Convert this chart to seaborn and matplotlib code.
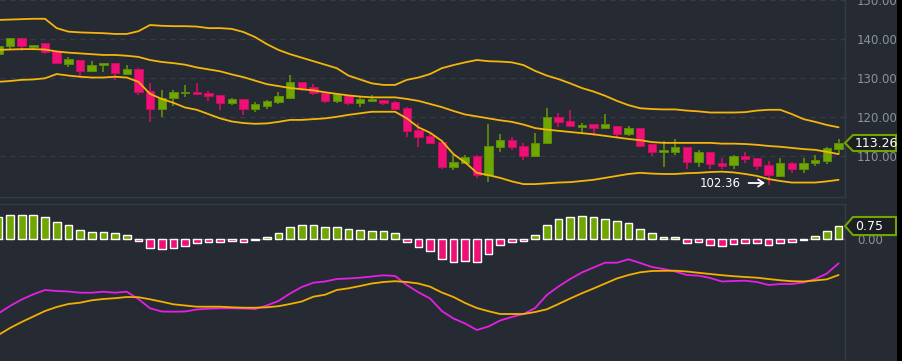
import numpy as np
import pandas as pd
import matplotlib
matplotlib.use("Agg")
import matplotlib.pyplot as plt
from matplotlib.patches import Polygon, Rectangle
from matplotlib.ticker import FormatStrFormatter
import seaborn as sns

# ---------------- data ----------------
opens = [136.1, 138.3, 140.2, 138.0, 138.9, 136.9, 133.5, 134.6, 131.9, 133.2,
         133.8, 130.9, 132.2, 126.6, 121.9, 124.9, 126.1, 126.4, 126.1, 125.7,
         123.5, 124.5, 121.9, 122.9, 123.8, 124.8, 128.9, 127.6, 126.2, 124.1,
         125.6, 123.6, 124.1, 124.3, 123.7, 122.2, 116.6, 115.1, 113.4, 107.2,
         108.2, 109.8, 105.1, 112.3, 114.0, 112.5, 109.8, 113.2, 119.9, 118.9,
         117.5, 118.2, 117.0, 117.6, 115.5, 117.0, 112.9, 111.0, 111.0, 112.2,
         108.3, 110.9, 108.2, 107.6, 109.8, 109.3, 107.6, 104.9, 108.1, 106.5,
         108.0, 108.7, 111.7]
highs = [138.5, 140.3, 140.3, 138.5, 138.9, 137.0, 135.5, 134.7, 134.4, 133.9,
         133.9, 133.2, 132.5, 128.6, 126.9, 126.9, 128.2, 128.6, 126.7, 125.7,
         124.9, 124.6, 123.9, 124.2, 126.5, 130.7, 129.0, 128.4, 126.2, 125.9,
         125.6, 125.0, 125.6, 124.3, 124.1, 122.6, 118.3, 116.2, 113.4, 110.2,
         110.2, 110.2, 118.1, 115.5, 114.9, 113.2, 115.8, 122.2, 120.9, 121.7,
         118.4, 118.2, 120.7, 117.6, 117.6, 117.0, 112.9, 113.8, 114.2, 112.2,
         111.5, 110.9, 109.3, 110.2, 111.0, 109.3, 108.7, 109.3, 108.3, 109.3,
         110.2, 112.3, 114.3]
lows = [135.5, 137.4, 137.0, 137.2, 136.1, 133.8, 132.9, 130.2, 131.8, 131.6,
        129.5, 130.7, 125.6, 118.7, 119.9, 122.8, 125.2, 125.8, 124.1, 121.7,
        123.0, 120.4, 121.3, 121.9, 123.2, 124.7, 126.6, 125.6, 123.6, 123.6,
        123.0, 122.6, 123.9, 123.0, 121.9, 114.7, 112.3, 113.2, 106.6, 106.4,
        108.0, 104.2, 103.2, 111.0, 111.5, 108.9, 109.8, 112.9, 117.5, 117.5,
        115.8, 115.1, 116.9, 114.9, 115.0, 112.5, 110.0, 107.2, 110.2, 106.6,
        107.2, 106.6, 106.6, 106.6, 108.0, 106.3, 102.36, 104.5, 105.6, 105.6,
        107.4, 107.8, 110.4]
closes = [138.2, 140.2, 138.3, 138.4, 136.7, 133.9, 134.8, 131.9, 133.3, 133.8,
          131.3, 132.2, 126.5, 121.9, 124.9, 126.3, 126.4, 125.8, 125.4, 123.5,
          124.5, 121.9, 123.2, 124.1, 125.4, 128.9, 127.3, 126.2, 124.1, 125.8,
          123.5, 124.5, 124.5, 123.5, 121.9, 116.4, 114.9, 113.2, 107.2, 108.5,
          109.6, 105.1, 112.6, 114.0, 112.3, 109.8, 113.2, 120.0, 118.7, 117.7,
          118.0, 117.2, 118.1, 115.6, 117.0, 112.6, 111.0, 111.5, 112.3, 108.5,
          111.0, 107.8, 107.4, 109.8, 109.1, 107.4, 105.0, 108.1, 106.5, 108.1,
          108.9, 111.9, 113.26]

bb_upper = [144.9, 145.0, 145.1, 145.2, 145.2, 142.8, 141.9, 141.7, 141.6, 141.5,
            141.3, 141.3, 142.0, 143.6, 143.4, 143.3, 143.3, 143.2, 142.8, 142.8,
            142.6, 141.8, 140.5, 138.7, 137.2, 136.1, 135.2, 134.3, 133.4, 132.5,
            130.6, 129.6, 128.6, 128.2, 128.2, 129.5, 130.1, 131.0, 132.5, 133.3,
            134.0, 134.6, 134.3, 134.2, 134.0, 133.3, 131.8, 130.6, 129.7, 128.6,
            127.4, 126.5, 125.4, 124.1, 123.0, 122.2, 122.0, 121.9, 121.9, 121.6,
            121.4, 121.1, 121.1, 121.1, 121.2, 121.6, 121.8, 121.8, 120.7, 119.4,
            118.7, 117.9, 117.3]
bb_mid = [137.2, 137.3, 137.4, 137.4, 137.3, 136.8, 136.5, 136.3, 136.1, 135.9,
          135.9, 135.7, 135.4, 134.6, 134.1, 133.8, 133.4, 132.7, 132.2, 131.7,
          130.9, 130.2, 129.3, 128.4, 127.9, 127.4, 127.1, 126.8, 126.3, 125.9,
          125.5, 125.2, 125.0, 125.0, 125.0, 124.6, 124.1, 123.3, 122.5, 121.5,
          120.6, 120.1, 119.6, 119.1, 118.7, 118.0, 117.1, 116.7, 116.4, 116.1,
          115.8, 115.5, 115.1, 114.7, 114.3, 114.0, 113.5, 113.3, 113.3, 113.3,
          113.3, 113.3, 113.1, 113.1, 113.0, 112.8, 112.5, 112.3, 112.0, 111.7,
          111.5, 111.0, 110.4]
bb_lower = [129.0, 129.2, 129.5, 129.6, 129.9, 131.0, 130.6, 130.3, 130.1, 130.1,
            130.3, 130.1, 129.0, 125.9, 124.6, 123.6, 122.4, 121.8, 120.7, 119.6,
            118.8, 118.4, 118.2, 118.3, 118.7, 119.2, 119.2, 119.4, 119.6, 120.0,
            120.5, 120.9, 121.3, 121.3, 121.3, 119.6, 117.3, 115.9, 113.8, 110.4,
            108.3, 105.6, 105.0, 104.3, 103.4, 102.7, 102.7, 102.9, 103.1, 103.2,
            103.5, 103.8, 104.3, 104.8, 105.3, 105.6, 105.4, 105.3, 105.3, 105.5,
            105.6, 105.8, 105.9, 105.7, 105.3, 104.8, 104.0, 103.5, 103.1, 103.1,
            103.1, 103.4, 103.8]

macd_hist = [1.24, 1.37, 1.37, 1.37, 1.24, 0.96, 0.81, 0.53, 0.43, 0.43,
             0.34, 0.24, -0.08, -0.51, -0.56, -0.51, -0.36, -0.23, -0.13, -0.13,
             -0.08, -0.13, -0.04, 0.11, 0.34, 0.68, 0.81, 0.81, 0.68, 0.68,
             0.58, 0.53, 0.47, 0.47, 0.34, -0.13, -0.41, -0.64, -1.13, -1.26,
             -1.20, -1.26, -0.85, -0.32, -0.13, -0.08, 0.24, 0.81, 1.15, 1.24,
             1.32, 1.24, 1.15, 1.03, 0.94, 0.58, 0.34, 0.11, 0.11, -0.23,
             -0.13, -0.32, -0.38, -0.28, -0.23, -0.23, -0.32, -0.23, -0.13, -0.04,
             0.19, 0.47, 0.75]
macd_dif = [-1.35, -0.60, 0.05, 0.57, 1.00, 0.90, 0.85, 0.73, 0.73, 0.83,
            0.73, 0.83, 0.10, -0.83, -1.15, -1.17, -1.15, -0.95, -0.87, -0.83,
            -0.83, -0.85, -0.90, -0.55, -0.10, 0.65, 1.30, 1.73, 1.85, 2.10,
            2.15, 2.23, 2.35, 2.47, 2.40, 1.50, 0.77, 0.15, -1.10, -1.85,
            -2.35, -3.00, -2.65, -2.05, -1.70, -1.40, -0.80, 0.50, 1.35, 2.10,
            2.75, 3.25, 3.73, 3.73, 4.07, 3.70, 3.30, 3.10, 2.85, 2.50,
            2.43, 2.20, 1.85, 1.90, 1.93, 1.80, 1.50, 1.60, 1.60, 1.75,
            2.10, 2.65, 3.67]
macd_dea = [-3.50, -2.80, -2.20, -1.65, -1.10, -0.70, -0.40, -0.27, -0.03, 0.10,
            0.18, 0.30, 0.28, 0.07, -0.17, -0.43, -0.55, -0.67, -0.67, -0.67,
            -0.73, -0.77, -0.77, -0.73, -0.62, -0.40, -0.15, 0.33, 0.53, 1.00,
            1.17, 1.40, 1.65, 1.80, 1.88, 1.80, 1.65, 1.33, 0.75, 0.30,
            -0.30, -0.80, -1.12, -1.40, -1.40, -1.40, -1.20, -0.93, -0.40, 0.15,
            0.67, 1.15, 1.65, 2.15, 2.50, 2.77, 2.90, 2.92, 2.93, 2.85,
            2.72, 2.60, 2.48, 2.38, 2.30, 2.23, 2.10, 1.97, 1.88, 1.85,
            1.95, 2.07, 2.50]

price_ticks = [110, 120, 130, 140, 150]
hist_ticks = [0]
low_mark_index = 66

# ---------------- style ----------------
BG = "#262b33"
GRID = "#363c47"
SPINE = "#363c46"
TICK = "#8c929b"
GREEN = "#6fa600"
GREEN_EDGE = "#5b8c0c"
PINK = "#ee0f77"
PINK_EDGE = "#c4105f"
GOLD = "#f5b50a"
MAGENTA = "#e51fe5"
ORANGE = "#f4b000"

sns.set_theme(style="dark", rc={
    "axes.facecolor": BG, "figure.facecolor": BG, "savefig.facecolor": BG,
    "axes.edgecolor": SPINE, "grid.color": GRID,
    "xtick.color": TICK, "ytick.color": TICK,
})
plt.rcParams["font.family"] = ["DejaVu Sans"]

W, H = 902, 361
fig = plt.figure(figsize=(W / 100, H / 100), dpi=100)
main_bottom_px = 196.7
low_top_px = 204.3
axis_px = 845
ax = fig.add_axes([0, 1 - main_bottom_px / H, axis_px / W, main_bottom_px / H])
axl = fig.add_axes([0, 0, axis_px / W, 1 - low_top_px / H])

n = len(closes)
idx = np.arange(n)
df = pd.DataFrame({
    "i": idx, "open": opens, "high": highs, "low": lows, "close": closes,
    "upper": bb_upper, "mid": bb_mid, "lower": bb_lower,
    "hist": macd_hist, "dif": macd_dif, "dea": macd_dea,
})

xlim = (0.143, 72.55)

# ---------------- price panel ----------------
o = df["open"].to_numpy(); c = df["close"].to_numpy()
up = c >= o
face = np.where(up, GREEN, PINK)
edge = np.where(up, GREEN_EDGE, PINK_EDGE)
ax.vlines(idx, df["low"], df["high"], colors=edge, linewidth=1.3, zorder=2)
bottoms = np.minimum(o, c)
heights = np.maximum(np.abs(c - o), 0.3)
ax.bar(idx, heights, bottom=bottoms, width=0.72, color=face, edgecolor=edge,
       linewidth=0.7, zorder=2.5)

for col in ["upper", "mid", "lower"]:
    sns.lineplot(data=df, x="i", y=col, ax=ax, color=GOLD, linewidth=1.3,
                 zorder=3, legend=False)

ax.set_xlim(*xlim)
ax.set_ylim(99.46, 150.03)
ax.set_xticks([])
ax.set_xlabel(""); ax.set_ylabel("")
ax.yaxis.tick_right()
ax.set_yticks(price_ticks)
ax.yaxis.set_major_formatter(FormatStrFormatter("%.2f"))
ax.tick_params(axis="y", length=0, pad=8.5, labelsize=8.5, colors=TICK)
ax.grid(axis="y", color=GRID, linestyle=(0, (4, 4)), linewidth=0.9)
ax.grid(axis="x", visible=False)
for s in ["top", "left"]:
    ax.spines[s].set_visible(False)
for s in ["right", "bottom"]:
    ax.spines[s].set_color(SPINE)
    ax.spines[s].set_linewidth(1.0)

# low marker annotation
lm = low_mark_index
ax.annotate(f"{lows[lm]:.2f}", xy=(lm - 0.3, lows[lm] + 0.62),
            xytext=(lm - 2.35, lows[lm] + 0.62), ha="right", va="center",
            color="white", fontsize=8.5, zorder=6,
            arrowprops=dict(arrowstyle="->,head_length=0.45,head_width=0.3",
                            color="white", lw=1.3, shrinkA=3, shrinkB=0))


def value_box(axis, yval, yhalf, text, fs):
    tr = axis.get_yaxis_transform()
    tip = 1.0
    notch = 8 / axis_px
    right = 896 / axis_px
    pts = [(tip, yval), (tip + notch, yval + yhalf), (right, yval + yhalf),
           (right, yval - yhalf), (tip + notch, yval - yhalf)]
    axis.add_patch(Polygon(pts, closed=True, transform=tr, facecolor="#1b1e23",
                           edgecolor=GREEN, linewidth=1.5, clip_on=False, zorder=10))
    axis.text(855 / axis_px, yval, text, transform=tr, ha="left", va="center",
              color="white", fontsize=fs, clip_on=False, zorder=11)


value_box(ax, closes[-1], 2.06, f"{closes[-1]:.2f}", 9)

# ---------------- MACD panel ----------------
hv = df["hist"].to_numpy()
axl.bar(idx, hv, width=0.66, color=np.where(hv >= 0, GREEN, PINK), zorder=2)
axl.axhline(0, color="#59606b", linestyle=(0, (3, 3)), linewidth=1.0, zorder=1)
axl.set_xlim(*xlim)
axl.set_ylim(-6.876, 1.977)
axl.set_xticks([])
axl.grid(False)
for s in ["bottom", "left"]:
    axl.spines[s].set_visible(False)
for s in ["right", "top"]:
    axl.spines[s].set_color(SPINE)
    axl.spines[s].set_linewidth(1.0)

ax2 = axl.twinx()
sns.lineplot(data=df, x="i", y="dif", ax=ax2, color=MAGENTA, linewidth=1.3,
             legend=False)
sns.lineplot(data=df, x="i", y="dea", ax=ax2, color=ORANGE, linewidth=1.3,
             legend=False)
ax2.set_xlim(*xlim)
ax2.set_ylim(-6.1, 9.57)
ax2.set_yticks([]); ax2.set_xticks([])
ax2.set_xlabel(""); ax2.set_ylabel("")
ax2.grid(False)
for s in ax2.spines.values():
    s.set_visible(False)

# ticks of the histogram axis on the right (after twinx, which moves them left)
axl.yaxis.tick_right()
axl.yaxis.set_label_position("right")
axl.set_yticks(hist_ticks)
axl.yaxis.set_major_formatter(FormatStrFormatter("%.2f"))
axl.tick_params(axis="y", which="both", left=False, labelleft=False,
                right=True, labelright=True, length=0, pad=8.5,
                labelsize=8.5, colors=TICK)

value_box(axl, macd_hist[-1], 0.51, f"{macd_hist[-1]:.2f}", 9)

# black strip at the right edge
fig.add_artist(Rectangle((897 / W, 0), 5 / W, 1, transform=fig.transFigure,
                         facecolor="black", edgecolor="none", zorder=20))

fig.savefig("out.png", dpi=100, facecolor=BG)
